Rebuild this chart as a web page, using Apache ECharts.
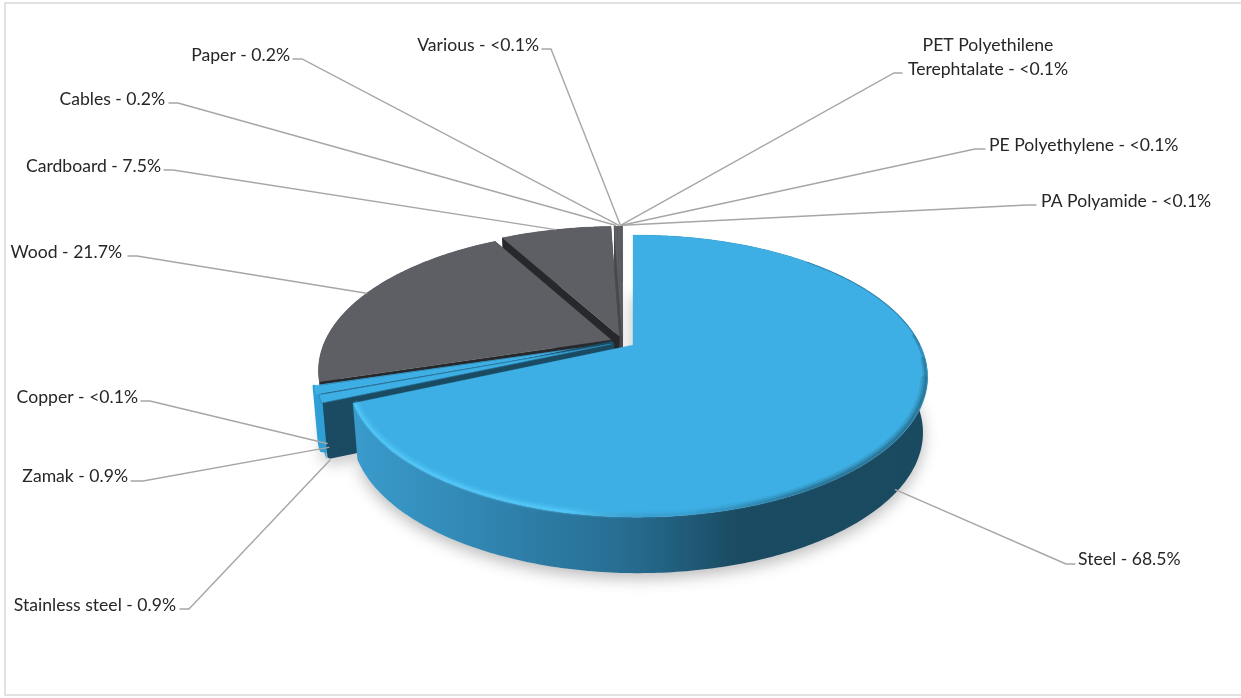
<!DOCTYPE html>
<html>
<head>
<meta charset="utf-8">
<title>Material composition</title>
<style>html,body{margin:0;padding:0;background:#fff}#chart{width:1241px;height:698px}</style>
<script src="https://cdn.jsdelivr.net/npm/echarts@6/dist/echarts.min.js"></script>
</head>
<body>
<div id="chart"></div>
<script>
// Materials, clockwise from twelve o'clock
const categories = ['Steel', 'Stainless steel', 'Zamak', 'Copper', 'Wood', 'Cardboard', 'Cables', 'Paper', 'Various', 'PET Polyethilene Terephtalate', 'PE Polyethylene', 'PA Polyamide'];
// Share of the total, percent
const shares = [68.5, 0.9, 0.9, 0.04, 21.7, 7.5, 0.2, 0.2, 0.04, 0.04, 0.04, 0.04];
// Share as printed beside each slice
const shareLabels = ['68.5%', '0.9%', '0.9%', '<0.1%', '21.7%', '7.5%', '0.2%', '0.2%', '<0.1%', '<0.1%', '<0.1%', '<0.1%'];
const families = ['blue', 'blue', 'blue', 'blue', 'grey', 'grey', 'grey', 'grey', 'grey', 'grey', 'grey', 'grey'];

// Label placement: text point, alignment, elbow of the leader, attachment on the slice
const labelLayout = [
  { x: 1078, y: 559, align: 'left',  elbow: [[1075, 564], [1066, 564]], r: 0.99,  plane: 1.02, spin: 1.5 },
  { x: 176,  y: 605, align: 'right', elbow: [[180, 609], [189, 609]],   r: 0.99,  plane: 1.03, spin: -1.6 },
  { x: 128,  y: 476, align: 'right', elbow: [[131, 481], [143, 481]],   r: 0.975, plane: 0.97, spin: -1.6 },
  { x: 138,  y: 397, align: 'right', elbow: [[141, 401], [150, 401]],   r: 0.975, plane: 1.05, spin: 0 },
  { x: 122,  y: 252, align: 'right', elbow: [[128, 256], [137, 256]],   r: 1.0,   plane: 0, spin: 0 },
  { x: 161,  y: 166, align: 'right', elbow: [[164, 170], [173, 170]],   r: 1.0,   plane: 0, spin: 0 },
  { x: 165,  y: 99,  align: 'right', elbow: [[169, 103], [178, 103]],   r: 1.01,  plane: 0, spin: 0 },
  { x: 290,  y: 55,  align: 'right', elbow: [[293, 59], [302, 59]],     r: 1.01,  plane: 0, spin: 0 },
  { x: 539,  y: 45,  align: 'right', elbow: [[542, 49], [551, 49]],     r: 1.01,  plane: 0, spin: 0 },
  { x: 988,  y: 57,  align: 'center', elbow: [[902, 73], [894, 73]],    r: 1.01,  plane: 0, spin: 0 },
  { x: 989,  y: 145, align: 'left',  elbow: [[985, 149], [975, 149]],   r: 1.01,  plane: 0, spin: 0 },
  { x: 1041, y: 201, align: 'left',  elbow: [[1036, 205], [1027, 205]], r: 1.01,  plane: 0, spin: 0 }
];
const labelBreaks = { 9: 'PET Polyethilene\nTerephtalate' };

// Perspective model of the tilted disc
const hub = [622.6, 341.9];           // undisturbed pie centre on screen
const spreadX = 12.4, spreadY = 5.8;  // how far exploded slices move
const tiltP = 0.22, scaleY = 134.2;
const rimAxisX = 637, lowerScale = 0.984, depth = 56;
const sliceWidths = { 0: 283, 2: 290.5, 3: 290.5, 4: 285.5 };

const total = shares.reduce((a, b) => a + b, 0);
const starts = [];
shares.reduce((acc, v, i) => { starts[i] = acc / total * 360; return acc + v; }, 0);
const rad = d => d * Math.PI / 180;

function midOf(i) { return starts[i] + shares[i] / total * 180; }
function endOf(i) { return starts[i] + shares[i] / total * 360; }

// Maps a slice-relative polar position to the screen. plane runs 0 (top) to 1 (underside).
function place(i, angle, r, plane) {
  const skew = i === 0 ? 0.015 : 0;
  const scaleX = sliceWidths[i] || 288;
  const mid = rad(midOf(i));
  const ox = hub[0] + spreadX * Math.sin(mid);
  const oy = hub[1] - spreadY * Math.cos(mid);
  const u = r * Math.sin(rad(angle));
  const v = -r * Math.cos(rad(angle));
  const w = 1 - tiltP * v - skew * u;
  const x = ox + scaleX * u / w;
  const y = oy + scaleY * v / w;
  const k = 1 - (1 - lowerScale) * plane;
  return [rimAxisX + (x - rimAxisX) * k, y + depth * plane];
}

function arc(i, a0, a1, r, plane) {
  const steps = Math.max(2, Math.ceil(Math.abs(a1 - a0) / 0.75));
  const pts = [];
  for (let s = 0; s <= steps; s++) pts.push(place(i, a0 + (a1 - a0) * s / steps, r, plane));
  return pts;
}

const sweep = (stops) => new echarts.graphic.LinearGradient(330, 0, 930, 0, stops, true);
const palette = {
  blue: { top: '#3dafe4', cut: '#1a4b62', wall: '#2f9fd6' },
  grey: { top: '#5e5f64', cut: '#26282b', wall: '#3f4044' }
};
const mainWall = () => sweep([
  { offset: 0.00, color: '#3b9fd1' },
  { offset: 0.25, color: '#3186b2' },
  { offset: 0.50, color: '#266c90' },
  { offset: 0.68, color: '#1a4b62' },
  { offset: 1.00, color: '#1a4a60' }
]);
const rimStroke = (light, dark) => sweep([
  { offset: 0.00, color: 'rgba(86,204,252,' + light + ')' },
  { offset: 0.40, color: 'rgba(86,204,252,' + light + ')' },
  { offset: 0.58, color: 'rgba(40,110,150,' + dark * 0.3 + ')' },
  { offset: 0.80, color: 'rgba(26,74,96,' + dark + ')' },
  { offset: 1.00, color: 'rgba(26,74,96,' + dark + ')' }
]);

function poly(points, style) {
  return { type: 'polygon', shape: { points }, style };
}
function line(points, style) {
  return { type: 'polyline', shape: { points }, style: Object.assign({ fill: null, lineJoin: 'round', lineCap: 'round' }, style) };
}

// Soft cast shadow of each slice's underside
function renderShadow(params, api) {
  const i = api.value(0);
  const a0 = starts[i], a1 = endOf(i);
  const under = [place(i, 0, 0, 1)].concat(arc(i, a0, a1, 1, 1));
  return poly(under, {
    fill: '#d8d8d8',
    shadowBlur: 16,
    shadowColor: 'rgba(0,0,0,0.28)',
    shadowOffsetY: 5
  });
}

// One slice: outer wall, cut faces, then top surface
function renderSlice(params, api) {
  const i = api.value(0);
  const c = palette[families[i]];
  const a0 = starts[i], a1 = endOf(i);
  const apexTop = place(i, 0, 0, 0), apexLow = place(i, 0, 0, 1);
  const children = [];

  const topArc = arc(i, a0, a1, 1, 0);
  const lowArc = arc(i, a0, a1, 1, 1);
  // Zamak's wall runs inward behind the stainless slice so no gap opens along the narrow edge
  const backing = i === 2 ? [place(i, a0 - 2, 0.95, 1), place(i, a0 - 2, 0.95, 0)] : [];
  children.push(poly(topArc.concat(lowArc.slice().reverse(), backing), {
    fill: i === 0 ? mainWall() : c.wall,
    stroke: i === 2 ? c.wall : null,
    lineWidth: 3,
    lineJoin: 'round'
  }));

  if (i === 1) {
    // The visible cut face of the stainless slice has softened corners
    children.push(poly([apexTop, place(i, a0, 0.988, 0), place(i, a0, 0.988, 0.95), place(i, 0, 0, 0.95)], {
      fill: c.cut, stroke: c.cut, lineWidth: 6, lineJoin: 'round'
    }));
  } else if (i > 3) {
    const faceColor = i >= 6 ? '#47484d' : c.cut;
    [a0, a1].forEach(a => {
      children.push(poly([apexTop, place(i, a, 1, 0), place(i, a, 1, 1), apexLow], { fill: faceColor }));
    });
  }

  children.push(poly([apexTop].concat(topArc), {
    fill: c.top,
    stroke: i === 1 ? '#2a7faa' : c.top,
    lineWidth: i === 1 ? 0.7 : 0.3
  }));

  if (i === 0) {
    // Bevel along the rim: bright on the lit side, dark on the shaded side, tapering in at the back
    const end = a1 - 0.8;
    children.push(line(arc(i, 104, end, 0.99, 0), { stroke: rimStroke(0.16, 0.14), lineWidth: 8 }));
    children.push(line(arc(i, 96, end, 0.992, 0), { stroke: rimStroke(0.28, 0.22), lineWidth: 5 }));
    children.push(line(arc(i, 86, end, 0.994, 0), { stroke: rimStroke(0.55, 0.3), lineWidth: 2.5 }));
    children.push(line(arc(i, 45, 90, 0.998, 0), { stroke: 'rgba(26,74,96,0.3)', lineWidth: 1.2 }));
  }
  return { type: 'group', children };
}

// Leader line and text for one slice
function renderLabel(params, api) {
  const i = api.value(0);
  const l = labelLayout[i];
  const name = labelBreaks[i] || categories[i];
  const target = place(i, midOf(i) + l.spin, l.r, l.plane);
  return {
    type: 'group',
    children: [
      line([l.elbow[0], l.elbow[1], target], { stroke: '#a6a6a6', lineWidth: 1.4, lineJoin: 'miter' }),
      {
        type: 'text',
        style: {
          text: name + ' - ' + shareLabels[i],
          x: l.x, y: l.y,
          align: l.align,
          verticalAlign: 'middle',
          fontFamily: 'Lato, "Open Sans", sans-serif',
          fontSize: 17.6,
          lineHeight: 24,
          fill: '#262626'
        }
      }
    ]
  };
}

const entries = shares.map((v, i) => [i, v]);
const backToFront = entries.slice().reverse();

const chart = echarts.init(document.getElementById('chart'), null, { renderer: 'canvas' });
chart.setOption({
  animation: false,
  backgroundColor: '#ffffff',
  graphic: [{
    type: 'rect',
    z: 0,
    shape: { x: 5, y: 3, width: 1240, height: 692 },
    style: { fill: '#ffffff', stroke: '#d9d9d9', lineWidth: 1.5 }
  }],
  series: [
    { type: 'custom', coordinateSystem: 'none', z: 1, silent: true, data: entries.slice(0, 6), renderItem: renderShadow },
    { type: 'custom', coordinateSystem: 'none', z: 2, silent: true, data: backToFront, renderItem: renderSlice },
    { type: 'custom', coordinateSystem: 'none', z: 3, silent: true, data: entries, renderItem: renderLabel }
  ]
});
</script>
</body>
</html>
